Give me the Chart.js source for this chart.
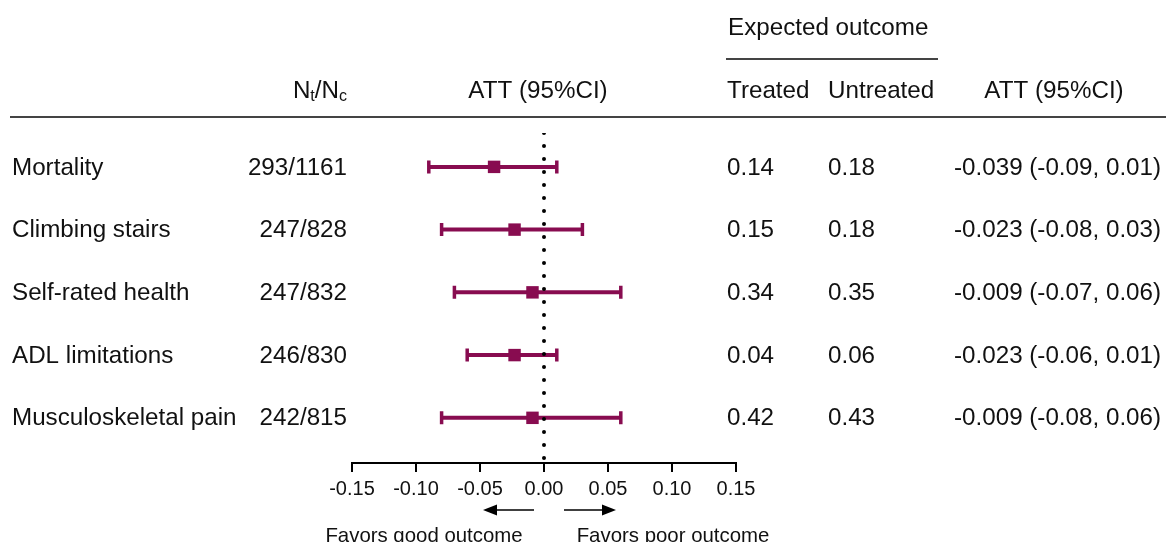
<!DOCTYPE html>
<html>
<head>
<meta charset="utf-8">
<script src="https://cdn.jsdelivr.net/npm/chart.js@4.4.1/dist/chart.umd.min.js"></script>
<style>
  html, body { margin:0; padding:0; background:#fff; }
  #wrap { width:1168px; height:542px; }
</style>
</head>
<body>
<div id="wrap"><canvas id="forest" width="1168" height="542"></canvas></div>
<script>
// Forest plot of ATT estimates with expected outcome table
const outcomes = ['Mortality', 'Climbing stairs', 'Self-rated health', 'ADL limitations', 'Musculoskeletal pain'];
const nTreated = [293, 247, 247, 246, 242];
const nControl = [1161, 828, 832, 830, 815];
const att = [-0.039, -0.023, -0.009, -0.023, -0.009];
const ciLow = [-0.09, -0.08, -0.07, -0.06, -0.08];
const ciHigh = [0.01, 0.03, 0.06, 0.01, 0.06];
const expTreated = [0.14, 0.15, 0.34, 0.04, 0.42];
const expUntreated = [0.18, 0.18, 0.35, 0.06, 0.43];
const xTicks = [-0.15, -0.10, -0.05, 0.00, 0.05, 0.10, 0.15];

const FONT = "'Liberation Sans', Arial, Helvetica, sans-serif";
const MARK = '#880c50';
const TXT = 24.2;

const rowIdx = outcomes.map((_, i) => i);

// whiskers with end caps, drawn under the squares
const whiskers = {
    id: 'whiskers',
    beforeDatasetsDraw(chart){
        const {ctx, scales:{x, y}} = chart;
        ctx.save();
        ctx.strokeStyle = MARK;
        rowIdx.forEach(i => {
            const py = y.getPixelForValue(i);
            const x0 = x.getPixelForValue(ciLow[i]);
            const x1 = x.getPixelForValue(ciHigh[i]);
            ctx.lineWidth = 4;
            ctx.beginPath();
            ctx.moveTo(x0, py); ctx.lineTo(x1, py);
            ctx.stroke();
            ctx.lineWidth = 3.5;
            ctx.beginPath();
            ctx.moveTo(x0, py - 6.5); ctx.lineTo(x0, py + 6.5);
            ctx.moveTo(x1, py - 6.5); ctx.lineTo(x1, py + 6.5);
            ctx.stroke();
        });
        ctx.restore();
    }
};

// table text, header rules and direction arrows
const tableText = {
    id: 'tableText',
    afterDraw(chart){
        const {ctx, scales:{x, y}} = chart;
        ctx.save();
        ctx.fillStyle = '#111';
        ctx.textBaseline = 'middle';

        // headers
        ctx.font = `${TXT}px ${FONT}`;
        ctx.textAlign = 'left';
        ctx.fillText('Expected outcome', 728, 28);
        ctx.fillText('Treated', 727, 91);
        ctx.fillText('Untreated', 828, 91);
        ctx.textAlign = 'center';
        ctx.fillText('ATT (95%CI)', 538, 91);
        ctx.fillText('ATT (95%CI)', 1054, 91);

        // N_t/N_c with subscripts, right aligned
        const big = `${TXT}px ${FONT}`, small = `16px ${FONT}`;
        const parts = [['N', big, 0], ['t', small, 6], ['/N', big, 0], ['c', small, 6]];
        let w = 0;
        parts.forEach(p => { ctx.font = p[1]; w += ctx.measureText(p[0]).width; });
        let cx = 347 - w;
        ctx.textAlign = 'left';
        parts.forEach(p => {
            ctx.font = p[1];
            ctx.fillText(p[0], cx, 91 + p[2]);
            cx += ctx.measureText(p[0]).width;
        });

        // rules
        ctx.strokeStyle = '#444';
        ctx.lineWidth = 2;
        ctx.beginPath();
        ctx.moveTo(726, 59); ctx.lineTo(938, 59);
        ctx.moveTo(10, 117); ctx.lineTo(1166, 117);
        ctx.stroke();

        // rows
        ctx.font = `${TXT}px ${FONT}`;
        rowIdx.forEach(i => {
            const py = y.getPixelForValue(i) + 1;
            ctx.textAlign = 'left';
            ctx.fillText(outcomes[i], 12, py);
            ctx.fillText(expTreated[i].toFixed(2), 727, py);
            ctx.fillText(expUntreated[i].toFixed(2), 828, py);
            ctx.fillText(`${att[i].toFixed(3)} (${ciLow[i].toFixed(2)}, ${ciHigh[i].toFixed(2)})`, 954, py);
            ctx.textAlign = 'right';
            ctx.fillText(`${nTreated[i]}/${nControl[i]}`, 347, py);
        });

        // arrows under the axis
        const zx = x.getPixelForValue(0);
        const ay = 510;
        ctx.strokeStyle = '#000';
        ctx.fillStyle = '#000';
        ctx.lineWidth = 1.5;
        const arrow = (from, to) => {
            const dir = Math.sign(to - from);
            ctx.beginPath();
            ctx.moveTo(from, ay); ctx.lineTo(to - dir * 10, ay);
            ctx.stroke();
            ctx.beginPath();
            ctx.moveTo(to, ay);
            ctx.lineTo(to - dir * 14, ay - 5.5);
            ctx.lineTo(to - dir * 14, ay + 5.5);
            ctx.closePath();
            ctx.fill();
        };
        arrow(zx - 10, zx - 61);
        arrow(zx + 20, zx + 72);

        ctx.fillStyle = '#111';
        ctx.font = `20.4px ${FONT}`;
        ctx.textAlign = 'center';
        ctx.textBaseline = 'alphabetic';
        ctx.fillText('Favors good outcome', 424, 542);
        ctx.fillText('Favors poor outcome', 673, 542);
        ctx.restore();
    }
};

new Chart(document.getElementById('forest'), {
    type: 'scatter',
    data: {
        datasets: [
            {
                label: 'ATT',
                data: rowIdx.map(i => ({x: att[i], y: i})),
                pointStyle: 'rect',
                pointRadius: 8.8,
                pointHoverRadius: 8.8,
                backgroundColor: MARK,
                borderColor: MARK,
                borderWidth: 0
            },
            {
                label: 'null',
                type: 'line',
                data: [{x: 0, y: -0.54}, {x: 0, y: 4.72}],
                borderColor: '#000',
                borderWidth: 4,
                borderDash: [0, 13],
                borderCapStyle: 'round',
                pointRadius: 0,
                fill: false
            }
        ]
    },
    options: {
        responsive: false,
        animation: false,
        events: [],
        layout: { padding: { left: 352, right: 432, top: 133, bottom: 0 } },
        plugins: { legend: { display: false }, tooltip: { enabled: false } },
        scales: {
            x: {
                type: 'linear',
                min: -0.15,
                max: 0.15,
                afterFit(scale){ scale.height = 79; },
                afterBuildTicks(scale){ scale.ticks = xTicks.map(v => ({value: v})); },
                border: { display: true, color: '#000', width: 2 },
                grid: { drawOnChartArea: false, drawTicks: true, tickLength: 9, color: '#000', lineWidth: 2 },
                ticks: {
                    padding: 5,
                    color: '#111',
                    font: { family: FONT, size: 20 },
                    maxRotation: 0,
                    callback: v => Number(v).toFixed(2)
                }
            },
            y: {
                type: 'linear',
                display: false,
                reverse: true,
                min: -0.54,
                max: 4.72
            }
        }
    },
    plugins: [whiskers, tableText]
});
</script>
</body>
</html>
